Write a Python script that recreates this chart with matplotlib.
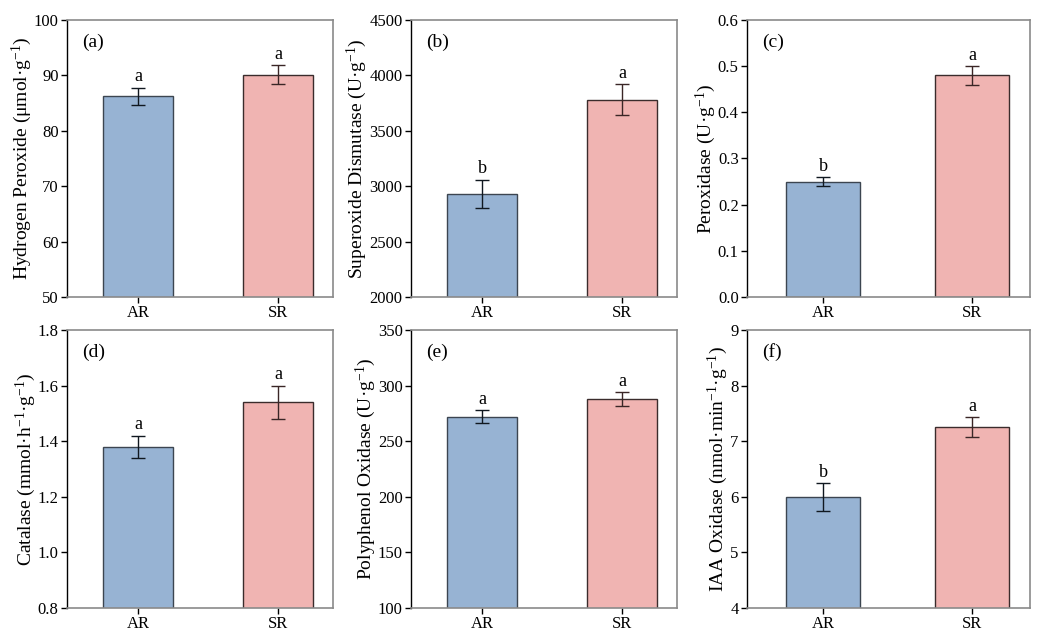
import matplotlib
matplotlib.use("Agg")
import matplotlib.pyplot as plt

plt.rcParams['font.family'] = ['Liberation Serif', 'DejaVu Serif']
plt.rcParams['mathtext.fontset'] = 'custom'
plt.rcParams['mathtext.rm'] = 'Liberation Serif'
plt.rcParams['mathtext.it'] = 'Liberation Serif:italic'

groups = ["AR", "SR"]
panel_tags = ["(a)", "(b)", "(c)", "(d)", "(e)", "(f)"]
ylabels = [
    r"Hydrogen Peroxide (μmol·g$^{-1}$)",
    r"Superoxide Dismutase (U·g$^{-1}$)",
    r"Peroxidase (U·g$^{-1}$)",
    r"Catalase (mmol·h$^{-1}$·g$^{-1}$)",
    r"Polyphenol Oxidase (U·g$^{-1}$)",
    r"IAA Oxidase (nmol·min$^{-1}$·g$^{-1}$)",
]
means_a = [86.2, 90.1]
errs_a = [1.6, 1.7]
means_b = [2930, 3780]
errs_b = [130, 140]
means_c = [0.25, 0.48]
errs_c = [0.01, 0.02]
means_d = [1.38, 1.54]
errs_d = [0.04, 0.06]
means_e = [272, 288]
errs_e = [6, 6]
means_f = [6.0, 7.26]
errs_f = [0.25, 0.18]
letters_a = ["a", "a"]
letters_b = ["b", "a"]
letters_c = ["b", "a"]
letters_d = ["a", "a"]
letters_e = ["a", "a"]
letters_f = ["b", "a"]

ylims = [(50, 100), (2000, 4500), (0.0, 0.6), (0.8, 1.8), (100, 350), (4, 9)]
yticks = [
    [50, 60, 70, 80, 90, 100],
    [2000, 2500, 3000, 3500, 4000, 4500],
    [0.0, 0.1, 0.2, 0.3, 0.4, 0.5, 0.6],
    [0.8, 1.0, 1.2, 1.4, 1.6, 1.8],
    [100, 150, 200, 250, 300, 350],
    [4, 5, 6, 7, 8, 9],
]
ytickfmt = ["{:.0f}", "{:.0f}", "{:.1f}", "{:.1f}", "{:.0f}", "{:.0f}"]

means = [means_a, means_b, means_c, means_d, means_e, means_f]
errs = [errs_a, errs_b, errs_c, errs_d, errs_e, errs_f]
letters = [letters_a, letters_b, letters_c, letters_d, letters_e, letters_f]

colors = ["#97B3D3", "#F0B4B2"]
edge_colors = ["#3c4550", "#3a2c2c"]
err_colors = ["#101820", "#3a2626"]

W, H = 1038, 641
fig = plt.figure(figsize=(W / 100, H / 100), dpi=100)

lefts = [67, 411, 747]
rights = [333, 677, 1030]
tops = [20, 330]
bottoms = [297, 608]

for i in range(6):
    r, c = divmod(i, 3)
    ax = fig.add_axes([lefts[c] / W, 1 - bottoms[r] / H,
                       (rights[c] - lefts[c]) / W, (bottoms[r] - tops[r]) / H])
    x = list(range(len(groups)))
    ax.bar(x, means[i], width=0.5, color=colors, edgecolor=edge_colors, linewidth=1.0, zorder=2)
    for xi, m, e, ec in zip(x, means[i], errs[i], err_colors):
        ax.errorbar([xi], [m], yerr=[e], fmt="none", ecolor=ec,
                    elinewidth=1.0, capsize=5, capthick=1.0, zorder=3)
    lo, hi = ylims[i]
    rng = hi - lo
    for xi, m, e, l in zip(x, means[i], errs[i], letters[i]):
        ax.text(xi, m + e + rng * 0.008, l, ha="center", va="bottom", fontsize=13)
    ax.set_xlim(-0.51, 1.39)
    ax.set_ylim(lo, hi)
    ax.set_xticks(x)
    ax.set_xticklabels(groups, fontsize=12)
    ax.set_yticks(yticks[i])
    ax.set_yticklabels([ytickfmt[i].format(v) for v in yticks[i]], fontsize=12)
    ax.tick_params(direction="out", length=4, width=1.0, color="black", pad=2)
    ax.set_ylabel(ylabels[i], fontsize=14, labelpad=0)
    ax.text(0.055, 0.92, panel_tags[i], transform=ax.transAxes, fontsize=14,
            ha="left", va="center")
    for side in ["top", "right", "bottom"]:
        ax.spines[side].set_color("#8a8a8a")
        ax.spines[side].set_linewidth(1.2)
    ax.spines["left"].set_color("black")
    ax.spines["left"].set_linewidth(1.0)

fig.savefig("out.png", dpi=100)
